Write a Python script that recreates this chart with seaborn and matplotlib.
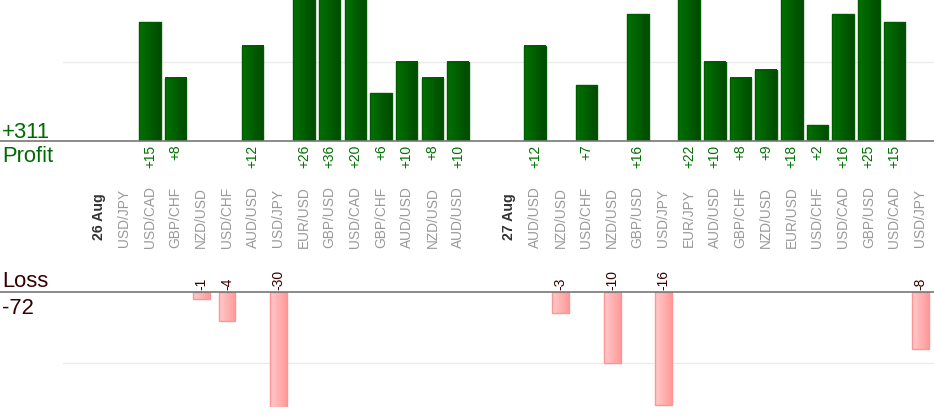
import matplotlib
matplotlib.use("Agg")
import matplotlib.pyplot as plt
import matplotlib.transforms as mtransforms
from matplotlib.colors import LinearSegmentedColormap
import numpy as np
import pandas as pd
import seaborn as sns

# --- data ---
days = ["26 Aug", "27 Aug"]
pairs_26 = ["USD/JPY", "USD/CAD", "GBP/CHF", "NZD/USD", "USD/CHF", "AUD/USD", "USD/JPY",
            "EUR/USD", "GBP/USD", "USD/CAD", "GBP/CHF", "AUD/USD", "NZD/USD", "AUD/USD"]
results_26 = [None, 15, 8, -1, -4, 12, -30, 26, 36, 20, 6, 10, 8, 10]
pairs_27 = ["AUD/USD", "NZD/USD", "USD/CHF", "NZD/USD", "GBP/USD", "USD/JPY", "EUR/JPY",
            "AUD/USD", "GBP/CHF", "NZD/USD", "EUR/USD", "USD/CHF", "USD/CAD", "GBP/USD",
            "USD/CAD", "USD/JPY"]
results_27 = [12, -3, 7, -10, 16, -16, 22, 10, 8, 9, 18, 2, 16, 25, 15, -8]

# build slot table: blank slot, date slot, then the trades of that day
rows = []
slot = 0
for day, pairs, results in [(days[0], pairs_26, results_26), (days[1], pairs_27, results_27)]:
    slot += 1  # blank
    rows.append({"slot": slot, "label": day, "is_day": True, "value": None})
    slot += 1
    for p, r in zip(pairs, results):
        rows.append({"slot": slot, "label": p, "is_day": False, "value": r})
        slot += 1
df = pd.DataFrame(rows)
trades = df[~df["is_day"] & df["value"].notna()].copy()
trades["value"] = trades["value"].astype(float)
profit = trades[trades["value"] > 0]
loss = trades[trades["value"] < 0]
total_profit = int(profit["value"].sum())
total_loss = int(loss["value"].sum())

W, H = 934, 420
sns.set_style("white")
plt.rcParams["font.family"] = ["Liberation Sans", "DejaVu Sans"]

fig = plt.figure(figsize=(W / 100, H / 100), dpi=100)
ax_top = fig.add_axes([0, 1 - 141 / H, 1, 141 / H])
ax_bot = fig.add_axes([0, 13.3 / H, 1, (406.7 - 292.3) / H])

# pixel x = 73 + 25.67 * slot
xlim = (-73 / 25.67, (W - 73) / 25.67)


def fill_gradient(ax, c_left, c_right, edge):
    cmap = LinearSegmentedColormap.from_list("g", [c_left, c_right])
    grad = np.linspace(0, 1, 64).reshape(1, -1)
    for patch in list(ax.patches):
        x0 = patch.get_x()
        w = patch.get_width()
        y0 = patch.get_y()
        h = patch.get_height()
        if h == 0 or np.isnan(h):
            continue
        ax.imshow(grad, cmap=cmap, extent=(x0, x0 + w, y0, y0 + h),
                  aspect="auto", zorder=1, interpolation="bilinear")
        patch.set_facecolor("none")
        patch.set_edgecolor(edge)
        patch.set_linewidth(1.0)
        patch.set_zorder(2)


sns.barplot(data=profit, x="slot", y="value", native_scale=True, width=0.84,
            color="#006600", ax=ax_top, errorbar=None)
fill_gradient(ax_top, "#007300", "#004a00", "#005a00")
sns.barplot(data=loss, x="slot", y="value", native_scale=True, width=0.66,
            color="#ffaaaa", ax=ax_bot, errorbar=None)
fill_gradient(ax_bot, "#ffcaca", "#ff9a9a", "#ff9494")

for ax in (ax_top, ax_bot):
    ax.set_xlim(*xlim)
    ax.set_axis_off()
ax_top.set_ylim(0, 141 / 7.93)
ax_bot.set_ylim(-(406.7 - 292.3) / 7.05, 0)

grid_x0 = 63 / W
ax_top.axhline(10, xmin=grid_x0, xmax=1, color="#ebebeb", lw=1, zorder=0)
ax_bot.axhline(-10, xmin=grid_x0, xmax=1, color="#ebebeb", lw=1, zorder=0)
ax_top.axhline(0, color="#777777", lw=1.2, zorder=3, clip_on=False)
ax_bot.axhline(0, color="#777777", lw=1.2, zorder=3, clip_on=False)

tr = mtransforms.blended_transform_factory(ax_top.transData, fig.transFigure)


def fy(px):
    return 1 - px / H


# category labels between the panels
for _, r in df.iterrows():
    if r["is_day"]:
        fig.text(r["slot"], fy(217), r["label"], transform=tr, rotation=90,
                 ha="center", va="center", fontsize=10.2, fontweight="bold", color="#333333")
    else:
        fig.text(r["slot"], fy(217.5), r["label"], transform=tr, rotation=90,
                 ha="center", va="center", fontsize=9.9, color="#999999")

# value labels
for _, r in profit.iterrows():
    fig.text(r["slot"], fy(144.5), f"+{int(r['value'])}", transform=tr, rotation=90,
             ha="center", va="top", fontsize=9.9, color="#007000")
for _, r in loss.iterrows():
    fig.text(r["slot"], fy(290), f"{int(r['value'])}", transform=tr, rotation=90,
             ha="center", va="bottom", fontsize=10, color="#3a0000")

# totals on the left
fig.text(2 / W, fy(138), f"+{total_profit}", ha="left", va="baseline", fontsize=15.8, color="#006a00")
fig.text(2 / W, fy(162), "Profit", ha="left", va="baseline", fontsize=15.8, color="#006a00")
fig.text(2 / W, fy(287), "Loss", ha="left", va="baseline", fontsize=15.8, color="#330000")
fig.text(2 / W, fy(314), f"{total_loss}", ha="left", va="baseline", fontsize=15.8, color="#330000")

fig.savefig("out.png", dpi=100)
